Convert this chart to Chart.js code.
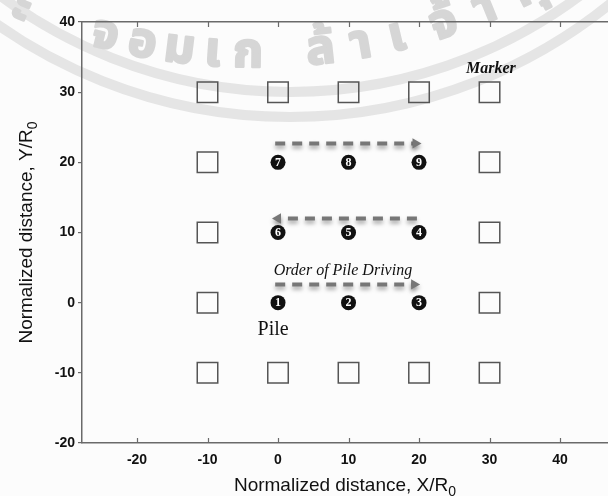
<!DOCTYPE html>
<html>
<head>
<meta charset="utf-8">
<script src="https://cdn.jsdelivr.net/npm/chart.js@4/dist/chart.umd.min.js"></script>
<style>
  html, body { margin: 0; padding: 0; background: #fcfcfc; overflow: hidden; }
  #pile-chart { display: block; }
</style>
</head>
<body>
<canvas id="pile-chart" width="608" height="496"></canvas>
<script>
// axis ticks and ranges (normalized distance)
const xTicks = [-20, -10, 0, 10, 20, 30, 40];
const yTicks = [-20, -10, 0, 10, 20, 30, 40];
const xRange = [-27.8, 46.8];
const yRange = [-20, 40];

// settlement markers around the pile group
const markerX = [-10, 0, 10, 20, 30, -10, 30, -10, 30, -10, 30, -10, 0, 10, 20, 30];
const markerY = [30, 30, 30, 30, 30, 20, 20, 10, 10, 0, 0, -10, -10, -10, -10, -10];

// piles, listed in driving order
const pileX = [0, 10, 20, 20, 10, 0, 0, 10, 20];
const pileY = [0, 0, 0, 10, 10, 10, 20, 20, 20];
const pileOrder = ['1', '2', '3', '4', '5', '6', '7', '8', '9'];

// driving direction, one arrow per row
const arrowY = [2.6, 12.0, 22.7];
const arrowFrom = [-0.4, 19.7, -0.4];
const arrowTo = [19.3, 0.0, 19.5];

// notes inside the plot
const noteText = ['Marker', 'Order of Pile Driving', 'Pile'];
const noteX = [30.2, 9.2, -0.7];
const noteY = [32.7, 3.9, -4.6];
const noteFont = [
    'italic bold 16px "Liberation Serif", serif',
    'italic 16px "Liberation Serif", serif',
    '20px "Liberation Serif", serif'
];

const axisColor = '#6a6a6a';
const arrowColor = '#777777';
const tickFont = { family: '"Liberation Sans", Arial, sans-serif', size: 14, weight: 'bold' };

// faded institute seal behind the plot
const crest = {
    id: 'crest',
    beforeDraw(chart) {
        const ctx = chart.ctx;
        ctx.save();
        ctx.fillStyle = '#fcfcfc';
        ctx.fillRect(0, 0, chart.width, chart.height);

        ctx.strokeStyle = '#e5e5e5';
        ctx.lineWidth = 10;
        [484, 509].forEach(r => {
            ctx.beginPath();
            ctx.arc(290, -392, r, 0, Math.PI);
            ctx.stroke();
        });

        const letters = ['ะ', 'จ', 'อ', 'ม', 'เ', 'ก', 'ล้', 'า', 'เ', 'จ้', 'า', 'คุ', 'ณ'];
        const spots = [17, 102, 140, 178, 212, 248, 322, 363, 400, 448, 490, 535, 590];
        const cx = 255, cy = -559, r = 626;
        ctx.fillStyle = '#d6d6d6';
        ctx.strokeStyle = '#d6d6d6';
        ctx.lineWidth = 2.5;
        ctx.lineJoin = 'round';
        ctx.font = 'bold 48px "Noto Sans Thai", "Noto Sans", sans-serif';
        ctx.textAlign = 'center';
        ctx.textBaseline = 'alphabetic';
        letters.forEach((ch, i) => {
            const a = Math.acos((spots[i] - cx) / r);
            ctx.save();
            ctx.translate(cx + r * Math.cos(a), cy + r * Math.sin(a));
            ctx.rotate(a - Math.PI / 2);
            ctx.fillText(ch, 0, 0);
            ctx.strokeText(ch, 0, 0);
            ctx.restore();
        });
        ctx.restore();
    }
};

// shadow under the dashed arrows
const arrowShadow = {
    id: 'arrowShadow',
    beforeDatasetDraw(chart, args) {
        if (!args.meta._dataset.isArrow) return;
        const ctx = chart.ctx;
        ctx.save();
        ctx.shadowColor = 'rgba(0,0,0,0.35)';
        ctx.shadowBlur = 4;
        ctx.shadowOffsetY = 3;
    },
    afterDatasetDraw(chart, args) {
        if (!args.meta._dataset.isArrow) return;
        chart.ctx.restore();
    }
};

// numbers on the piles, notes, axis titles and inward ticks
const decorations = {
    id: 'decorations',
    afterDraw(chart) {
        const ctx = chart.ctx;
        const xs = chart.scales.x, ys = chart.scales.y;
        const { top, bottom, left, right } = chart.chartArea;
        ctx.save();

        ctx.strokeStyle = axisColor;
        ctx.lineWidth = 1.2;
        xs.ticks.forEach(t => {
            const px = Math.round(xs.getPixelForValue(t.value)) + 0.5;
            ctx.beginPath();
            ctx.moveTo(px, bottom);
            ctx.lineTo(px, bottom - 5);
            ctx.moveTo(px, top);
            ctx.lineTo(px, top + 5);
            ctx.stroke();
        });

        const pileMeta = chart.getDatasetMeta(1);
        ctx.fillStyle = '#ffffff';
        ctx.font = 'bold 12px "Liberation Serif", serif';
        ctx.textAlign = 'center';
        ctx.textBaseline = 'middle';
        pileMeta.data.forEach((pt, i) => {
            ctx.fillText(pileOrder[i], pt.x, pt.y + 0.5);
        });

        ctx.fillStyle = '#111111';
        ctx.textBaseline = 'alphabetic';
        noteText.forEach((txt, i) => {
            ctx.font = noteFont[i];
            ctx.fillText(txt, xs.getPixelForValue(noteX[i]), ys.getPixelForValue(noteY[i]));
        });

        const title = (main, sub) => {
            ctx.font = '19px "Liberation Sans", Arial, sans-serif';
            const w1 = ctx.measureText(main).width;
            ctx.font = '14px "Liberation Sans", Arial, sans-serif';
            const w2 = ctx.measureText(sub).width;
            const start = -(w1 + w2) / 2;
            ctx.textAlign = 'left';
            ctx.font = '19px "Liberation Sans", Arial, sans-serif';
            ctx.fillText(main, start, 0);
            ctx.font = '14px "Liberation Sans", Arial, sans-serif';
            ctx.fillText(sub, start + w1, 5);
        };
        ctx.save();
        ctx.translate((left + right) / 2, 491);
        title('Normalized distance, X/R', '0');
        ctx.restore();
        ctx.save();
        ctx.translate(32, (top + bottom) / 2);
        ctx.rotate(-Math.PI / 2);
        title('Normalized distance, Y/R', '0');
        ctx.restore();

        ctx.restore();
    }
};

const arrowSets = arrowY.map((y, i) => ({
    type: 'line',
    isArrow: true,
    xAxisID: 'x',
    yAxisID: 'y',
    data: [{ x: arrowFrom[i], y: y }, { x: arrowTo[i], y: y }],
    showLine: true,
    fill: false,
    borderColor: arrowColor,
    borderWidth: 4,
    borderDash: [10, 7],
    pointRadius: [0, 6],
    pointStyle: 'triangle',
    pointRotation: arrowTo[i] > arrowFrom[i] ? 90 : -90,
    pointBackgroundColor: arrowColor,
    pointBorderWidth: 0
}));

// no extra side padding for the first/last tick labels
const flush = s => { s.paddingLeft = 0; s.paddingRight = 0; };

const ctx = document.getElementById('pile-chart').getContext('2d');
new Chart(ctx, {
    type: 'scatter',
    data: {
        datasets: [
            {
                label: 'Marker',
                xAxisID: 'x',
                yAxisID: 'y',
                data: markerX.map((x, i) => ({ x: x, y: markerY[i] })),
                pointStyle: 'rect',
                pointRadius: 14.5,
                backgroundColor: 'rgba(255,255,255,0)',
                borderColor: '#555555',
                borderWidth: 1.5
            },
            {
                label: 'Pile',
                xAxisID: 'x',
                yAxisID: 'y',
                data: pileX.map((x, i) => ({ x: x, y: pileY[i] })),
                pointStyle: 'circle',
                pointRadius: 7.5,
                backgroundColor: '#111111',
                borderColor: '#111111',
                borderWidth: 0
            },
            ...arrowSets
        ]
    },
    options: {
        responsive: false,
        animation: false,
        events: [],
        layout: { padding: 0, autoPadding: false },
        plugins: {
            legend: { display: false },
            tooltip: { enabled: false }
        },
        scales: {
            x: {
                type: 'linear',
                position: 'bottom',
                min: xRange[0],
                max: xRange[1],
                afterBuildTicks: s => { s.ticks = xTicks.map(v => ({ value: v })); },
                afterFit: s => { s.height = 53; flush(s); },
                grid: { display: false, drawTicks: false },
                border: { display: true, color: axisColor, width: 1.5 },
                ticks: { padding: 9, color: '#111111', font: tickFont }
            },
            xTop: {
                type: 'linear',
                position: 'top',
                min: xRange[0],
                max: xRange[1],
                afterBuildTicks: s => { s.ticks = xTicks.map(v => ({ value: v })); },
                afterFit: s => { s.height = 22; flush(s); },
                grid: { display: false, drawTicks: false },
                border: { display: true, color: axisColor, width: 1.5 },
                ticks: { display: false }
            },
            y: {
                type: 'linear',
                min: yRange[0],
                max: yRange[1],
                afterBuildTicks: s => { s.ticks = yTicks.map(v => ({ value: v })); },
                afterFit: s => { s.width = 82; s.paddingTop = 0; s.paddingBottom = 0; },
                grid: { display: true, drawOnChartArea: false, drawTicks: true, tickLength: 4, color: axisColor, lineWidth: 1.2 },
                border: { display: true, color: axisColor, width: 1.5 },
                ticks: { padding: 3, color: '#111111', font: tickFont }
            }
        }
    },
    plugins: [crest, arrowShadow, decorations]
});
</script>
</body>
</html>
